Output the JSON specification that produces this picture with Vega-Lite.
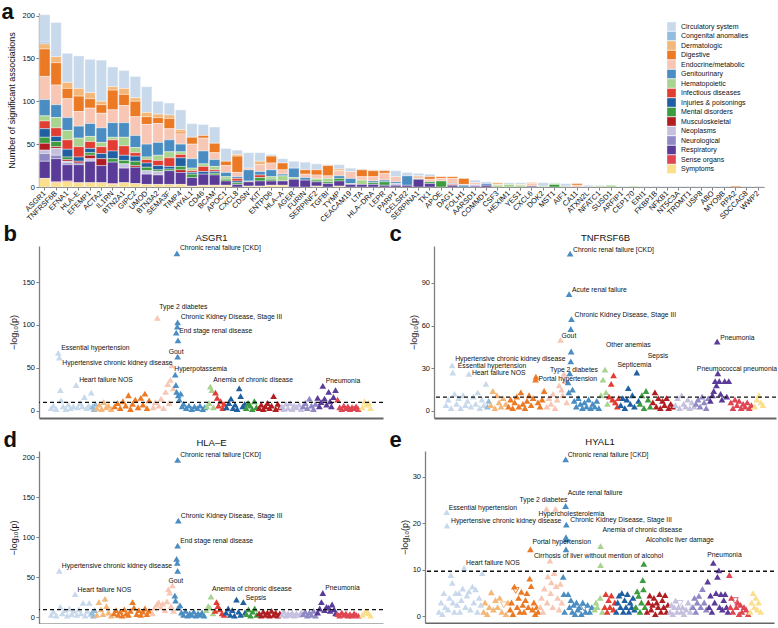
{
  "$schema": "https://vega.github.io/schema/vega-lite/v6.json",
  "padding": {"left": 1, "top": 0, "right": 0, "bottom": 0},
  "spacing": -2,
  "config": {
    "font": "Liberation Sans",
    "view": {"stroke": null},
    "range": {
      "category": ["#c9d9ec", "#92bddf", "#f4b77a", "#ec7a25", "#f7c6b4", "#4a8dc2", "#a9d48f", "#e13d33", "#1f5fa2", "#3c9c3f", "#b01e22", "#c6c0df", "#8f89c4", "#5a3b98", "#df4652", "#fbdf8c"]
    },
    "axis": {
      "grid": false,
      "domainColor": "#7f7f7f",
      "tickColor": "#7f7f7f",
      "labelColor": "#111111",
      "titleColor": "#111111",
      "labelFontSize": 8,
      "titleFontSize": 9,
      "titleFontWeight": "normal",
      "tickSize": 3.5
    },
    "axisXQuantitative": {
      "labels": false,
      "ticks": false,
      "domainWidth": 2,
      "domainColor": "#666666"
    },
    "axisYQuantitative": {"domainWidth": 1.3, "labelPadding": 1.5, "labelFontSize": 7.5, "tickSize": 3, "titlePadding": 3}
  },
  "datasets": {
    "cats": [
      {"k": "ci", "c": "Circulatory system"}, {"k": "co", "c": "Congenital anomalies"},
      {"k": "de", "c": "Dermatologic"}, {"k": "di", "c": "Digestive"},
      {"k": "en", "c": "Endocrine/metabolic"}, {"k": "ge", "c": "Genitourinary"},
      {"k": "he", "c": "Hematopoietic"}, {"k": "in", "c": "Infectious diseases"},
      {"k": "ij", "c": "Injuries & poisonings"}, {"k": "me", "c": "Mental disorders"},
      {"k": "mu", "c": "Musculoskeletal"}, {"k": "np", "c": "Neoplasms"},
      {"k": "ne", "c": "Neurological"}, {"k": "re", "c": "Respiratory"},
      {"k": "se", "c": "Sense organs"}, {"k": "sy", "c": "Symptoms"}
    ],
    "bars": [
      {"g":"ASGR1","k":"ci","n":32},{"g":"ASGR1","k":"co","n":2},{"g":"ASGR1","k":"de","n":6},{"g":"ASGR1","k":"di","n":32},{"g":"ASGR1","k":"en","n":27},{"g":"ASGR1","k":"ge","n":19},{"g":"ASGR1","k":"he","n":6},{"g":"ASGR1","k":"in","n":9},{"g":"ASGR1","k":"ij","n":10},{"g":"ASGR1","k":"me","n":7},{"g":"ASGR1","k":"mu","n":8},{"g":"ASGR1","k":"np","n":4},{"g":"ASGR1","k":"ne","n":9},{"g":"ASGR1","k":"re","n":20},{"g":"ASGR1","k":"sy","n":10},
      {"g":"TNFRSF6B","k":"ci","n":40},{"g":"TNFRSF6B","k":"de","n":7},{"g":"TNFRSF6B","k":"di","n":26},{"g":"TNFRSF6B","k":"en","n":23},{"g":"TNFRSF6B","k":"ge","n":15},{"g":"TNFRSF6B","k":"he","n":12},{"g":"TNFRSF6B","k":"in","n":10},{"g":"TNFRSF6B","k":"ij","n":6},{"g":"TNFRSF6B","k":"me","n":6},{"g":"TNFRSF6B","k":"mu","n":2},{"g":"TNFRSF6B","k":"np","n":8},{"g":"TNFRSF6B","k":"ne","n":4},{"g":"TNFRSF6B","k":"re","n":27},{"g":"TNFRSF6B","k":"se","n":1},{"g":"TNFRSF6B","k":"sy","n":5},
      {"g":"EFNA1","k":"ci","n":34},{"g":"EFNA1","k":"de","n":7},{"g":"EFNA1","k":"di","n":12},{"g":"EFNA1","k":"en","n":22},{"g":"EFNA1","k":"ge","n":15},{"g":"EFNA1","k":"he","n":11},{"g":"EFNA1","k":"in","n":11},{"g":"EFNA1","k":"ij","n":9},{"g":"EFNA1","k":"me","n":3},{"g":"EFNA1","k":"mu","n":2},{"g":"EFNA1","k":"np","n":2},{"g":"EFNA1","k":"ne","n":2},{"g":"EFNA1","k":"re","n":19},{"g":"EFNA1","k":"se","n":1},{"g":"EFNA1","k":"sy","n":6},
      {"g":"HLA–E","k":"ci","n":38},{"g":"HLA–E","k":"de","n":9},{"g":"HLA–E","k":"di","n":18},{"g":"HLA–E","k":"en","n":17},{"g":"HLA–E","k":"ge","n":14},{"g":"HLA–E","k":"he","n":10},{"g":"HLA–E","k":"in","n":12},{"g":"HLA–E","k":"ij","n":5},{"g":"HLA–E","k":"mu","n":2},{"g":"HLA–E","k":"ne","n":2},{"g":"HLA–E","k":"re","n":21},{"g":"HLA–E","k":"sy","n":5},
      {"g":"EFEMP1","k":"ci","n":39},{"g":"EFEMP1","k":"de","n":7},{"g":"EFEMP1","k":"di","n":11},{"g":"EFEMP1","k":"en","n":18},{"g":"EFEMP1","k":"ge","n":15},{"g":"EFEMP1","k":"he","n":6},{"g":"EFEMP1","k":"in","n":8},{"g":"EFEMP1","k":"ij","n":5},{"g":"EFEMP1","k":"me","n":3},{"g":"EFEMP1","k":"mu","n":4},{"g":"EFEMP1","k":"np","n":3},{"g":"EFEMP1","k":"re","n":25},{"g":"EFEMP1","k":"sy","n":5},
      {"g":"ACTA2","k":"ci","n":48},{"g":"ACTA2","k":"de","n":4},{"g":"ACTA2","k":"di","n":10},{"g":"ACTA2","k":"en","n":17},{"g":"ACTA2","k":"ge","n":17},{"g":"ACTA2","k":"he","n":5},{"g":"ACTA2","k":"in","n":8},{"g":"ACTA2","k":"ij","n":6},{"g":"ACTA2","k":"mu","n":8},{"g":"ACTA2","k":"re","n":20},{"g":"ACTA2","k":"sy","n":5},
      {"g":"IL1RN","k":"ci","n":23},{"g":"IL1RN","k":"de","n":4},{"g":"IL1RN","k":"di","n":23},{"g":"IL1RN","k":"en","n":15},{"g":"IL1RN","k":"ge","n":17},{"g":"IL1RN","k":"he","n":3},{"g":"IL1RN","k":"in","n":13},{"g":"IL1RN","k":"ij","n":9},{"g":"IL1RN","k":"me","n":4},{"g":"IL1RN","k":"re","n":25},{"g":"IL1RN","k":"se","n":1},{"g":"IL1RN","k":"sy","n":3},
      {"g":"BTN2A1","k":"ci","n":21},{"g":"BTN2A1","k":"de","n":7},{"g":"BTN2A1","k":"di","n":13},{"g":"BTN2A1","k":"en","n":20},{"g":"BTN2A1","k":"ge","n":17},{"g":"BTN2A1","k":"he","n":10},{"g":"BTN2A1","k":"in","n":11},{"g":"BTN2A1","k":"ij","n":6},{"g":"BTN2A1","k":"me","n":4},{"g":"BTN2A1","k":"np","n":5},{"g":"BTN2A1","k":"re","n":17},{"g":"BTN2A1","k":"sy","n":5},
      {"g":"GIPC2","k":"ci","n":25},{"g":"GIPC2","k":"de","n":4},{"g":"GIPC2","k":"di","n":18},{"g":"GIPC2","k":"en","n":22},{"g":"GIPC2","k":"ge","n":14},{"g":"GIPC2","k":"he","n":6},{"g":"GIPC2","k":"in","n":4},{"g":"GIPC2","k":"ij","n":6},{"g":"GIPC2","k":"me","n":5},{"g":"GIPC2","k":"mu","n":2},{"g":"GIPC2","k":"re","n":19},{"g":"GIPC2","k":"sy","n":4},
      {"g":"UMOD","k":"ci","n":30},{"g":"UMOD","k":"de","n":5},{"g":"UMOD","k":"di","n":9},{"g":"UMOD","k":"en","n":23},{"g":"UMOD","k":"ge","n":15},{"g":"UMOD","k":"he","n":3},{"g":"UMOD","k":"in","n":4},{"g":"UMOD","k":"ij","n":5},{"g":"UMOD","k":"me","n":4},{"g":"UMOD","k":"np","n":4},{"g":"UMOD","k":"re","n":12},{"g":"UMOD","k":"sy","n":3},
      {"g":"BTN3A2","k":"ci","n":15},{"g":"BTN3A2","k":"de","n":4},{"g":"BTN3A2","k":"di","n":7},{"g":"BTN3A2","k":"en","n":22},{"g":"BTN3A2","k":"ge","n":15},{"g":"BTN3A2","k":"he","n":6},{"g":"BTN3A2","k":"in","n":6},{"g":"BTN3A2","k":"ij","n":5},{"g":"BTN3A2","k":"me","n":2},{"g":"BTN3A2","k":"np","n":4},{"g":"BTN3A2","k":"re","n":11},{"g":"BTN3A2","k":"sy","n":3},
      {"g":"SEMA3F","k":"ci","n":14},{"g":"SEMA3F","k":"de","n":4},{"g":"SEMA3F","k":"di","n":12},{"g":"SEMA3F","k":"en","n":13},{"g":"SEMA3F","k":"ge","n":14},{"g":"SEMA3F","k":"he","n":7},{"g":"SEMA3F","k":"in","n":10},{"g":"SEMA3F","k":"ij","n":3},{"g":"SEMA3F","k":"me","n":2},{"g":"SEMA3F","k":"re","n":16},{"g":"SEMA3F","k":"sy","n":3},
      {"g":"TIMP4","k":"ci","n":23},{"g":"TIMP4","k":"de","n":3},{"g":"TIMP4","k":"di","n":2},{"g":"TIMP4","k":"en","n":12},{"g":"TIMP4","k":"ge","n":9},{"g":"TIMP4","k":"he","n":3},{"g":"TIMP4","k":"in","n":4},{"g":"TIMP4","k":"ij","n":10},{"g":"TIMP4","k":"me","n":4},{"g":"TIMP4","k":"mu","n":3},{"g":"TIMP4","k":"re","n":14},{"g":"TIMP4","k":"sy","n":3},
      {"g":"HYAL1","k":"ci","n":16},{"g":"HYAL1","k":"di","n":8},{"g":"HYAL1","k":"en","n":17},{"g":"HYAL1","k":"ge","n":11},{"g":"HYAL1","k":"he","n":3},{"g":"HYAL1","k":"in","n":2},{"g":"HYAL1","k":"ij","n":2},{"g":"HYAL1","k":"me","n":4},{"g":"HYAL1","k":"re","n":10},{"g":"HYAL1","k":"sy","n":1},
      {"g":"CD46","k":"ci","n":13},{"g":"CD46","k":"di","n":3},{"g":"CD46","k":"en","n":15},{"g":"CD46","k":"ge","n":15},{"g":"CD46","k":"he","n":3},{"g":"CD46","k":"in","n":6},{"g":"CD46","k":"ij","n":3},{"g":"CD46","k":"re","n":13},{"g":"CD46","k":"sy","n":2},
      {"g":"BCAM","k":"ci","n":19},{"g":"BCAM","k":"di","n":11},{"g":"BCAM","k":"en","n":8},{"g":"BCAM","k":"ge","n":8},{"g":"BCAM","k":"he","n":4},{"g":"BCAM","k":"in","n":2},{"g":"BCAM","k":"ij","n":2},{"g":"BCAM","k":"me","n":2},{"g":"BCAM","k":"re","n":12},{"g":"BCAM","k":"sy","n":2},
      {"g":"APOC1","k":"ci","n":15},{"g":"APOC1","k":"di","n":5},{"g":"APOC1","k":"en","n":8},{"g":"APOC1","k":"ge","n":5},{"g":"APOC1","k":"he","n":3},{"g":"APOC1","k":"me","n":2},{"g":"APOC1","k":"re","n":5},{"g":"APOC1","k":"sy","n":2},
      {"g":"CXCL8","k":"ci","n":5},{"g":"CXCL8","k":"de","n":2},{"g":"CXCL8","k":"di","n":19},{"g":"CXCL8","k":"en","n":5},{"g":"CXCL8","k":"ge","n":2},{"g":"CXCL8","k":"in","n":3},{"g":"CXCL8","k":"ij","n":2},{"g":"CXCL8","k":"me","n":2},{"g":"CXCL8","k":"re","n":3},
      {"g":"CDSN","k":"ci","n":18},{"g":"CDSN","k":"en","n":2},{"g":"CDSN","k":"ge","n":13},{"g":"CDSN","k":"he","n":1},{"g":"CDSN","k":"re","n":5},{"g":"CDSN","k":"sy","n":1},
      {"g":"KIT","k":"ci","n":10},{"g":"KIT","k":"de","n":4},{"g":"KIT","k":"en","n":8},{"g":"KIT","k":"ge","n":4},{"g":"KIT","k":"in","n":3},{"g":"KIT","k":"me","n":4},{"g":"KIT","k":"re","n":6},{"g":"KIT","k":"sy","n":1},
      {"g":"ENTPD6","k":"ci","n":2},{"g":"ENTPD6","k":"di","n":8},{"g":"ENTPD6","k":"en","n":8},{"g":"ENTPD6","k":"ge","n":8},{"g":"ENTPD6","k":"he","n":3},{"g":"ENTPD6","k":"me","n":2},{"g":"ENTPD6","k":"re","n":5},{"g":"ENTPD6","k":"sy","n":2},
      {"g":"HLA–A","k":"ci","n":5},{"g":"HLA–A","k":"di","n":8},{"g":"HLA–A","k":"en","n":5},{"g":"HLA–A","k":"ge","n":2},{"g":"HLA–A","k":"he","n":6},{"g":"HLA–A","k":"re","n":5},{"g":"HLA–A","k":"sy","n":2},
      {"g":"AGER","k":"ci","n":8},{"g":"AGER","k":"ge","n":11},{"g":"AGER","k":"he","n":2},{"g":"AGER","k":"re","n":9},
      {"g":"FURIN","k":"ci","n":9},{"g":"FURIN","k":"di","n":5},{"g":"FURIN","k":"en","n":4},{"g":"FURIN","k":"ge","n":3},{"g":"FURIN","k":"re","n":8},
      {"g":"SERPINF2","k":"ci","n":7},{"g":"SERPINF2","k":"di","n":6},{"g":"SERPINF2","k":"en","n":4},{"g":"SERPINF2","k":"he","n":2},{"g":"SERPINF2","k":"me","n":2},{"g":"SERPINF2","k":"re","n":5},{"g":"SERPINF2","k":"sy","n":1},
      {"g":"TGFBI","k":"ci","n":1},{"g":"TGFBI","k":"di","n":12},{"g":"TGFBI","k":"en","n":3},{"g":"TGFBI","k":"he","n":4},{"g":"TGFBI","k":"me","n":2},{"g":"TGFBI","k":"re","n":4},
      {"g":"TYMP","k":"ci","n":5},{"g":"TYMP","k":"de","n":2},{"g":"TYMP","k":"en","n":6},{"g":"TYMP","k":"ge","n":3},{"g":"TYMP","k":"me","n":3},{"g":"TYMP","k":"re","n":6},{"g":"TYMP","k":"sy","n":1},
      {"g":"CEACAM19","k":"ci","n":4},{"g":"CEACAM19","k":"en","n":8},{"g":"CEACAM19","k":"ge","n":6},{"g":"CEACAM19","k":"he","n":1},{"g":"CEACAM19","k":"re","n":3},
      {"g":"LTA","k":"ci","n":1},{"g":"LTA","k":"di","n":8},{"g":"LTA","k":"en","n":4},{"g":"LTA","k":"he","n":5},{"g":"LTA","k":"re","n":3},
      {"g":"HLA–DRA","k":"ci","n":1},{"g":"HLA–DRA","k":"di","n":7},{"g":"HLA–DRA","k":"en","n":5},{"g":"HLA–DRA","k":"ge","n":2},{"g":"HLA–DRA","k":"me","n":2},{"g":"HLA–DRA","k":"re","n":3},
      {"g":"LEPR","k":"ci","n":1},{"g":"LEPR","k":"di","n":3},{"g":"LEPR","k":"en","n":8},{"g":"LEPR","k":"ge","n":2},{"g":"LEPR","k":"me","n":4},{"g":"LEPR","k":"re","n":2},
      {"g":"PARP1","k":"ci","n":7},{"g":"PARP1","k":"en","n":6},{"g":"PARP1","k":"ge","n":2},{"g":"PARP1","k":"np","n":2},{"g":"PARP1","k":"re","n":2},
      {"g":"CELSR2","k":"ci","n":4},{"g":"CELSR2","k":"ge","n":11},{"g":"CELSR2","k":"re","n":2},
      {"g":"SERPINA1","k":"ci","n":3},{"g":"SERPINA1","k":"en","n":3},{"g":"SERPINA1","k":"he","n":1},{"g":"SERPINA1","k":"re","n":9},
      {"g":"TK1","k":"ci","n":3},{"g":"TK1","k":"di","n":3},{"g":"TK1","k":"en","n":3},{"g":"TK1","k":"me","n":2},{"g":"TK1","k":"re","n":4},
      {"g":"APOE","k":"di","n":2},{"g":"APOE","k":"en","n":3},{"g":"APOE","k":"me","n":7},
      {"g":"DAG1","k":"di","n":2},{"g":"DAG1","k":"en","n":6},{"g":"DAG1","k":"ge","n":1},{"g":"DAG1","k":"in","n":1},{"g":"DAG1","k":"re","n":2},
      {"g":"FOLH1","k":"di","n":7},{"g":"FOLH1","k":"en","n":1},{"g":"FOLH1","k":"ge","n":2},
      {"g":"AARSD1","k":"ci","n":3},{"g":"AARSD1","k":"en","n":2},{"g":"AARSD1","k":"np","n":2},{"g":"AARSD1","k":"re","n":1},
      {"g":"COMMD1","k":"ci","n":2},{"g":"COMMD1","k":"ge","n":2},{"g":"COMMD1","k":"re","n":2},
      {"g":"CSF3","k":"de","n":2},{"g":"CSF3","k":"en","n":1},{"g":"CSF3","k":"he","n":2},
      {"g":"HEXIM1","k":"ci","n":2},{"g":"HEXIM1","k":"he","n":3},
      {"g":"YES1","k":"ci","n":2},{"g":"YES1","k":"en","n":1},{"g":"YES1","k":"he","n":2},
      {"g":"CXCL6","k":"di","n":1},{"g":"CXCL6","k":"en","n":3},{"g":"CXCL6","k":"re","n":1},
      {"g":"DOK2","k":"ci","n":4},{"g":"DOK2","k":"he","n":1},
      {"g":"MST1","k":"ci","n":1},{"g":"MST1","k":"he","n":1},{"g":"MST1","k":"me","n":3},
      {"g":"AIF1","k":"ci","n":3},{"g":"AIF1","k":"he","n":1},
      {"g":"CA11","k":"di","n":2},{"g":"CA11","k":"en","n":2},
      {"g":"ATXN2L","k":"ci","n":2},
      {"g":"NFATC1","k":"ci","n":1},{"g":"NFATC1","k":"he","n":1},
      {"g":"SUSD1","k":"he","n":2},
      {"g":"ARFIP1","k":"ci","n":1},{"g":"CEP170","k":"he","n":1},{"g":"ERI1","k":"ci","n":1},{"g":"FKBP1B","k":"ci","n":1},{"g":"NFKB1","k":"ci","n":1},{"g":"NT5C3A","k":"ci","n":1},{"g":"TRDMT1","k":"ci","n":1},{"g":"USP8","k":"ci","n":1},{"g":"ABO","k":"ci","n":1},{"g":"MYO9B","k":"ci","n":1},{"g":"RPA2","k":"di","n":1},{"g":"SDCCAG8","k":"ci","n":1},{"g":"WWP2","k":"ci","n":1}
    ],
    "asgr1": [
      {"i":35,"v":3,"k":"ci"},{"i":42,"v":6,"k":"ci"},{"i":50,"v":2,"k":"ci"},{"i":56,"v":67.4,"k":"ci","l":"Essential hypertension"},{"i":59,"v":62,"k":"ci","l":"Hypertensive chronic kidney disease"},{"i":62,"v":24,"k":"ci"},{"i":64,"v":12,"k":"ci"},{"i":70,"v":5,"k":"ci"},{"i":78,"v":2,"k":"ci"},{"i":85,"v":7,"k":"ci"},{"i":92,"v":3,"k":"ci"},{"i":100,"v":5,"k":"ci"},{"i":108,"v":30,"k":"ci","l":"Heart failure NOS"},{"i":112,"v":4,"k":"ci"},{"i":120,"v":9,"k":"ci"},{"i":126,"v":5,"k":"ci"},{"i":132,"v":16,"k":"ci"},{"i":138,"v":3,"k":"ci"},{"i":144,"v":6,"k":"ci"},{"i":148,"v":4,"k":"ci"},{"i":152,"v":21,"k":"ci"},
      {"i":156,"v":5,"k":"co"},{"i":160,"v":2,"k":"co"},{"i":164,"v":8,"k":"co"},
      {"i":168,"v":3,"k":"de"},{"i":175,"v":7,"k":"de"},{"i":182,"v":2,"k":"de"},{"i":188,"v":10,"k":"de"},{"i":195,"v":4,"k":"de"},{"i":202,"v":6,"k":"de"},{"i":210,"v":2,"k":"de"},
      {"i":220,"v":5,"k":"di"},{"i":228,"v":9,"k":"di"},{"i":236,"v":3,"k":"di"},{"i":244,"v":11,"k":"di"},{"i":252,"v":6,"k":"di"},{"i":260,"v":18,"k":"di"},{"i":266,"v":2,"k":"di"},{"i":272,"v":8,"k":"di"},{"i":280,"v":13,"k":"di"},{"i":288,"v":4,"k":"di"},{"i":296,"v":15,"k":"di"},{"i":302,"v":7,"k":"di"},{"i":308,"v":20,"k":"di"},{"i":314,"v":3,"k":"di"},{"i":320,"v":12,"k":"di"},
      {"i":332,"v":4,"k":"en"},{"i":338,"v":10,"k":"en"},{"i":344,"v":108.3,"k":"en","l":"Type 2 diabetes"},{"i":348,"v":6,"k":"en"},{"i":355,"v":14,"k":"en"},{"i":362,"v":3,"k":"en"},{"i":368,"v":22,"k":"en"},{"i":374,"v":31,"k":"en"},{"i":378,"v":9,"k":"en"},{"i":382,"v":36,"k":"en"},{"i":386,"v":53,"k":"en","l":"Gout"},{"i":390,"v":26,"k":"en"},
      {"i":396,"v":42,"k":"ge","l":"Hyperpotassemia"},{"i":398,"v":30,"k":"ge"},{"i":400,"v":22,"k":"ge"},{"i":401,"v":183.4,"k":"ge","l":"Chronic renal failure [CKD]"},{"i":403,"v":103,"k":"ge","l":"Chronic Kidney Disease, Stage III"},{"i":402,"v":98,"k":"ge"},{"i":399,"v":91,"k":"ge","l":"End stage renal disease"},{"i":404,"v":82,"k":"ge"},{"i":403,"v":63,"k":"ge"},{"i":405,"v":18,"k":"ge"},{"i":408,"v":13,"k":"ge"},{"i":412,"v":20,"k":"ge"},{"i":416,"v":5,"k":"ge"},{"i":420,"v":8,"k":"ge"},{"i":428,"v":3,"k":"ge"},{"i":436,"v":6,"k":"ge"},{"i":444,"v":2,"k":"ge"},{"i":452,"v":5,"k":"ge"},{"i":460,"v":3,"k":"ge"},{"i":468,"v":6,"k":"ge"},{"i":476,"v":2,"k":"ge"},{"i":482,"v":4,"k":"ge"},
      {"i":488,"v":5,"k":"he"},{"i":494,"v":9,"k":"he"},{"i":498,"v":28,"k":"he","l":"Anemia of chronic disease"},{"i":502,"v":24,"k":"he"},{"i":507,"v":4,"k":"he"},
      {"i":513,"v":21,"k":"in"},{"i":518,"v":15,"k":"in"},{"i":522,"v":6,"k":"in"},{"i":528,"v":11,"k":"in"},{"i":534,"v":3,"k":"in"},{"i":538,"v":8,"k":"in"},
      {"i":545,"v":4,"k":"ij"},{"i":552,"v":9,"k":"ij"},{"i":558,"v":14,"k":"ij"},{"i":564,"v":3,"k":"ij"},{"i":570,"v":7,"k":"ij"},{"i":576,"v":2,"k":"ij"},{"i":582,"v":26,"k":"ij"},{"i":586,"v":17,"k":"ij"},{"i":592,"v":5,"k":"ij"},{"i":598,"v":8,"k":"ij"},
      {"i":602,"v":3,"k":"me"},{"i":608,"v":9,"k":"me"},{"i":614,"v":6,"k":"me"},{"i":620,"v":2,"k":"me"},{"i":626,"v":11,"k":"me"},{"i":632,"v":4,"k":"me"},
      {"i":640,"v":3,"k":"mu"},{"i":646,"v":7,"k":"mu"},{"i":652,"v":2,"k":"mu"},{"i":658,"v":5,"k":"mu"},{"i":664,"v":9,"k":"mu"},{"i":670,"v":3,"k":"mu"},{"i":676,"v":6,"k":"mu"},{"i":682,"v":17,"k":"mu"},{"i":688,"v":2,"k":"mu"},{"i":694,"v":8,"k":"mu"},{"i":700,"v":4,"k":"mu"},
      {"i":706,"v":5,"k":"np"},{"i":712,"v":2,"k":"np"},{"i":718,"v":8,"k":"np"},{"i":724,"v":3,"k":"np"},{"i":730,"v":9,"k":"np"},{"i":736,"v":2,"k":"np"},{"i":742,"v":6,"k":"np"},{"i":748,"v":4,"k":"np"},{"i":756,"v":7,"k":"np"},{"i":762,"v":2,"k":"np"},
      {"i":768,"v":5,"k":"ne"},{"i":774,"v":9,"k":"ne"},{"i":780,"v":3,"k":"ne"},{"i":786,"v":14,"k":"ne"},{"i":792,"v":6,"k":"ne"},{"i":798,"v":2,"k":"ne"},{"i":804,"v":8,"k":"ne"},
      {"i":810,"v":15,"k":"re"},{"i":815,"v":5,"k":"re"},{"i":820,"v":10,"k":"re"},{"i":825,"v":29,"k":"re","l":"Pneumonia"},{"i":830,"v":14,"k":"re"},{"i":836,"v":7,"k":"re"},{"i":842,"v":22,"k":"re"},{"i":846,"v":11,"k":"re"},{"i":850,"v":5,"k":"re"},{"i":856,"v":16,"k":"re"},{"i":862,"v":24,"k":"re"},
      {"i":868,"v":13,"k":"se"},{"i":874,"v":4,"k":"se"},{"i":880,"v":2,"k":"se"},{"i":886,"v":6,"k":"se"},{"i":892,"v":3,"k":"se"},{"i":898,"v":5,"k":"se"},{"i":904,"v":2,"k":"se"},{"i":910,"v":4,"k":"se"},{"i":916,"v":3,"k":"se"},{"i":922,"v":5,"k":"se"},{"i":928,"v":2,"k":"se"},
      {"i":940,"v":4,"k":"sy"},{"i":946,"v":11,"k":"sy"},{"i":952,"v":7,"k":"sy"},{"i":958,"v":9,"k":"sy"},{"i":964,"v":3,"k":"sy"}
    ],
    "tnf": [
      {"i":35,"v":4,"k":"ci"},{"i":42,"v":8,"k":"ci"},{"i":50,"v":2,"k":"ci"},{"i":53,"v":32,"k":"ci","l":"Hypertensive chronic kidney disease"},{"i":55,"v":27,"k":"ci","l":"Essential hypertension"},{"i":60,"v":12,"k":"ci"},{"i":66,"v":5,"k":"ci"},{"i":72,"v":9,"k":"ci"},{"i":78,"v":2,"k":"ci"},{"i":85,"v":11,"k":"ci"},{"i":92,"v":4,"k":"ci"},{"i":98,"v":7,"k":"ci"},{"i":102,"v":26,"k":"ci","l":"Heart failure NOS"},{"i":108,"v":3,"k":"ci"},{"i":115,"v":10,"k":"ci"},{"i":122,"v":5,"k":"ci"},{"i":128,"v":13,"k":"ci"},{"i":134,"v":2,"k":"ci"},{"i":140,"v":8,"k":"ci"},{"i":146,"v":4,"k":"ci"},{"i":152,"v":19,"k":"ci"},
      {"i":156,"v":3,"k":"co"},{"i":160,"v":7,"k":"co"},
      {"i":166,"v":4,"k":"de"},{"i":172,"v":14,"k":"de"},{"i":178,"v":2,"k":"de"},{"i":184,"v":11,"k":"de"},{"i":190,"v":6,"k":"de"},{"i":196,"v":3,"k":"de"},{"i":202,"v":9,"k":"de"},{"i":210,"v":5,"k":"de"},
      {"i":218,"v":3,"k":"di"},{"i":224,"v":8,"k":"di"},{"i":230,"v":2,"k":"di"},{"i":236,"v":6,"k":"di"},{"i":242,"v":10,"k":"di"},{"i":248,"v":3,"k":"di"},{"i":254,"v":13,"k":"di"},{"i":260,"v":5,"k":"di"},{"i":266,"v":2,"k":"di"},{"i":272,"v":7,"k":"di"},{"i":278,"v":11,"k":"di"},{"i":284,"v":4,"k":"di"},{"i":290,"v":9,"k":"di"},{"i":297,"v":22,"k":"di","l":"Portal hypertension"},{"i":298,"v":24,"k":"di"},{"i":304,"v":6,"k":"di"},{"i":310,"v":3,"k":"di"},{"i":316,"v":8,"k":"di"},{"i":322,"v":14,"k":"di"},
      {"i":330,"v":3,"k":"en"},{"i":336,"v":9,"k":"en"},{"i":342,"v":5,"k":"en"},{"i":348,"v":12,"k":"en"},{"i":354,"v":2,"k":"en"},{"i":360,"v":8,"k":"en"},{"i":366,"v":18,"k":"en"},{"i":370,"v":50,"k":"en","l":"Gout"},{"i":373,"v":15,"k":"en"},{"i":376,"v":11,"k":"en"},{"i":380,"v":26,"k":"en","l":"Type 2 diabetes"},{"i":384,"v":21,"k":"en"},{"i":388,"v":6,"k":"en"},
      {"i":392,"v":20,"k":"ge"},{"i":394,"v":13,"k":"ge"},{"i":395,"v":82.2,"k":"ge","l":"Acute renal failure"},{"i":398,"v":110.6,"k":"ge","l":"Chronic renal failure [CKD]"},{"i":402,"v":64.6,"k":"ge","l":"Chronic Kidney Disease, Stage III"},{"i":400,"v":57.6,"k":"ge"},{"i":401,"v":41.8,"k":"ge"},{"i":400,"v":34.8,"k":"ge"},{"i":397,"v":26.5,"k":"ge"},{"i":405,"v":15,"k":"ge"},{"i":410,"v":7,"k":"ge"},{"i":416,"v":3,"k":"ge"},{"i":422,"v":9,"k":"ge"},{"i":428,"v":5,"k":"ge"},{"i":434,"v":2,"k":"ge"},{"i":440,"v":6,"k":"ge"},{"i":446,"v":3,"k":"ge"},{"i":452,"v":8,"k":"ge"},{"i":458,"v":2,"k":"ge"},{"i":464,"v":5,"k":"ge"},{"i":470,"v":3,"k":"ge"},{"i":476,"v":7,"k":"ge"},{"i":482,"v":2,"k":"ge"},
      {"i":488,"v":11,"k":"he"},{"i":494,"v":22,"k":"he"},{"i":500,"v":29,"k":"he","l":"Other anemias"},{"i":503,"v":13,"k":"he"},{"i":507,"v":5,"k":"he"},
      {"i":512,"v":10,"k":"in"},{"i":518,"v":19,"k":"in"},{"i":522,"v":8,"k":"in"},{"i":525,"v":25,"k":"in","l":"Septicemia"},{"i":530,"v":6,"k":"in"},{"i":536,"v":3,"k":"in"},{"i":540,"v":9,"k":"in"},
      {"i":546,"v":4,"k":"ij"},{"i":552,"v":9,"k":"ij"},{"i":558,"v":2,"k":"ij"},{"i":564,"v":8,"k":"ij"},{"i":568,"v":16,"k":"ij"},{"i":574,"v":5,"k":"ij"},{"i":580,"v":11,"k":"ij"},{"i":586,"v":3,"k":"ij"},{"i":593,"v":27,"k":"ij","l":"Sepsis"},{"i":598,"v":7,"k":"ij"},
      {"i":602,"v":5,"k":"me"},{"i":608,"v":11,"k":"me"},{"i":614,"v":2,"k":"me"},{"i":620,"v":14,"k":"me"},{"i":626,"v":8,"k":"me"},{"i":632,"v":3,"k":"me"},
      {"i":640,"v":6,"k":"mu"},{"i":646,"v":13,"k":"mu"},{"i":650,"v":3,"k":"mu"},{"i":656,"v":9,"k":"mu"},{"i":662,"v":2,"k":"mu"},{"i":668,"v":7,"k":"mu"},{"i":674,"v":4,"k":"mu"},{"i":680,"v":9,"k":"mu"},{"i":686,"v":2,"k":"mu"},{"i":692,"v":5,"k":"mu"},{"i":698,"v":3,"k":"mu"},
      {"i":706,"v":4,"k":"np"},{"i":712,"v":9,"k":"np"},{"i":718,"v":2,"k":"np"},{"i":724,"v":11,"k":"np"},{"i":730,"v":5,"k":"np"},{"i":736,"v":3,"k":"np"},{"i":742,"v":8,"k":"np"},{"i":748,"v":2,"k":"np"},{"i":754,"v":6,"k":"np"},{"i":760,"v":3,"k":"np"},
      {"i":766,"v":5,"k":"ne"},{"i":772,"v":8,"k":"ne"},{"i":778,"v":3,"k":"ne"},{"i":784,"v":10,"k":"ne"},{"i":790,"v":6,"k":"ne"},{"i":796,"v":2,"k":"ne"},{"i":802,"v":9,"k":"ne"},
      {"i":808,"v":7,"k":"re"},{"i":814,"v":11,"k":"re"},{"i":818,"v":14,"k":"re"},{"i":822,"v":21,"k":"re"},{"i":826,"v":18,"k":"re"},{"i":828,"v":48.7,"k":"re","l":"Pneumonia"},{"i":830,"v":26.5,"k":"re","l":"Pneumococcal pneumonia"},{"i":834,"v":21,"k":"re"},{"i":838,"v":12,"k":"re"},{"i":842,"v":8,"k":"re"},{"i":850,"v":21,"k":"re"},{"i":856,"v":10,"k":"re"},{"i":862,"v":21,"k":"re"},
      {"i":868,"v":6,"k":"se"},{"i":874,"v":2,"k":"se"},{"i":880,"v":8,"k":"se"},{"i":886,"v":4,"k":"se"},{"i":892,"v":7,"k":"se"},{"i":898,"v":2,"k":"se"},{"i":904,"v":5,"k":"se"},{"i":910,"v":3,"k":"se"},{"i":916,"v":6,"k":"se"},{"i":922,"v":2,"k":"se"},{"i":928,"v":4,"k":"se"},
      {"i":938,"v":3,"k":"sy"},{"i":944,"v":8,"k":"sy"},{"i":950,"v":11,"k":"sy"},{"i":956,"v":6,"k":"sy"},{"i":962,"v":4,"k":"sy"}
    ],
    "hlae": [
      {"i":35,"v":3,"k":"ci"},{"i":42,"v":7,"k":"ci"},{"i":50,"v":2,"k":"ci"},{"i":59,"v":58,"k":"ci","l":"Hypertensive chronic kidney disease"},{"i":62,"v":13,"k":"ci"},{"i":68,"v":5,"k":"ci"},{"i":75,"v":9,"k":"ci"},{"i":82,"v":2,"k":"ci"},{"i":88,"v":11,"k":"ci"},{"i":95,"v":4,"k":"ci"},{"i":101,"v":8,"k":"ci"},{"i":105,"v":29,"k":"ci","l":"Heart failure NOS"},{"i":110,"v":3,"k":"ci"},{"i":116,"v":10,"k":"ci"},{"i":122,"v":5,"k":"ci"},{"i":128,"v":18,"k":"ci"},{"i":134,"v":2,"k":"ci"},{"i":140,"v":8,"k":"ci"},{"i":146,"v":18,"k":"ci"},{"i":150,"v":4,"k":"ci"},
      {"i":154,"v":6,"k":"co"},{"i":158,"v":2,"k":"co"},{"i":162,"v":9,"k":"co"},
      {"i":168,"v":3,"k":"de"},{"i":174,"v":19,"k":"de"},{"i":180,"v":10,"k":"de"},{"i":186,"v":4,"k":"de"},{"i":192,"v":23,"k":"de"},{"i":196,"v":14,"k":"de"},{"i":202,"v":6,"k":"de"},{"i":210,"v":2,"k":"de"},
      {"i":218,"v":5,"k":"di"},{"i":224,"v":9,"k":"di"},{"i":230,"v":3,"k":"di"},{"i":236,"v":7,"k":"di"},{"i":242,"v":2,"k":"di"},{"i":248,"v":10,"k":"di"},{"i":254,"v":5,"k":"di"},{"i":260,"v":3,"k":"di"},{"i":266,"v":8,"k":"di"},{"i":272,"v":19,"k":"di"},{"i":276,"v":12,"k":"di"},{"i":284,"v":4,"k":"di"},{"i":290,"v":9,"k":"di"},{"i":296,"v":3,"k":"di"},{"i":302,"v":7,"k":"di"},{"i":308,"v":11,"k":"di"},{"i":314,"v":4,"k":"di"},{"i":320,"v":8,"k":"di"},
      {"i":330,"v":5,"k":"en"},{"i":336,"v":12,"k":"en"},{"i":342,"v":16,"k":"en"},{"i":348,"v":19,"k":"en"},{"i":354,"v":13,"k":"en"},{"i":360,"v":17,"k":"en"},{"i":366,"v":9,"k":"en"},{"i":372,"v":20,"k":"en"},{"i":376,"v":35,"k":"en"},{"i":380,"v":31,"k":"en"},{"i":384,"v":14,"k":"en"},{"i":388,"v":40,"k":"en","l":"Gout"},{"i":391,"v":8,"k":"en"},
      {"i":395,"v":27,"k":"ge"},{"i":397,"v":21,"k":"ge"},{"i":400,"v":73,"k":"ge"},{"i":402,"v":68,"k":"ge"},{"i":403,"v":197,"k":"ge","l":"Chronic renal failure [CKD]"},{"i":405,"v":120.8,"k":"ge","l":"Chronic Kidney Disease, Stage III"},{"i":403,"v":89.6,"k":"ge","l":"End stage renal disease"},{"i":403,"v":58,"k":"ge"},{"i":405,"v":12,"k":"ge"},{"i":410,"v":15,"k":"ge"},{"i":414,"v":6,"k":"ge"},{"i":420,"v":3,"k":"ge"},{"i":426,"v":8,"k":"ge"},{"i":432,"v":2,"k":"ge"},{"i":438,"v":5,"k":"ge"},{"i":444,"v":3,"k":"ge"},{"i":450,"v":7,"k":"ge"},{"i":456,"v":2,"k":"ge"},{"i":462,"v":5,"k":"ge"},{"i":468,"v":3,"k":"ge"},{"i":474,"v":6,"k":"ge"},{"i":480,"v":2,"k":"ge"},
      {"i":486,"v":9,"k":"he"},{"i":492,"v":14,"k":"he"},{"i":497,"v":12,"k":"he"},{"i":500,"v":25.8,"k":"he","l":"Anemia of chronic disease"},{"i":506,"v":5,"k":"he"},
      {"i":512,"v":8,"k":"in"},{"i":516,"v":19,"k":"in"},{"i":520,"v":14,"k":"in"},{"i":526,"v":10,"k":"in"},{"i":532,"v":5,"k":"in"},{"i":538,"v":3,"k":"in"},
      {"i":544,"v":6,"k":"ij"},{"i":550,"v":11,"k":"ij"},{"i":556,"v":3,"k":"ij"},{"i":562,"v":9,"k":"ij"},{"i":568,"v":2,"k":"ij"},{"i":574,"v":22,"k":"ij"},{"i":580,"v":7,"k":"ij"},{"i":586,"v":3,"k":"ij"},{"i":594,"v":19,"k":"ij","l":"Sepsis"},{"i":599,"v":6,"k":"ij"},
      {"i":603,"v":4,"k":"me"},{"i":609,"v":10,"k":"me"},{"i":615,"v":2,"k":"me"},{"i":621,"v":7,"k":"me"},{"i":627,"v":11,"k":"me"},{"i":633,"v":3,"k":"me"},
      {"i":640,"v":5,"k":"mu"},{"i":646,"v":2,"k":"mu"},{"i":652,"v":7,"k":"mu"},{"i":658,"v":3,"k":"mu"},{"i":664,"v":6,"k":"mu"},{"i":670,"v":2,"k":"mu"},{"i":676,"v":8,"k":"mu"},{"i":682,"v":3,"k":"mu"},{"i":688,"v":6,"k":"mu"},{"i":694,"v":2,"k":"mu"},{"i":700,"v":5,"k":"mu"},
      {"i":706,"v":3,"k":"np"},{"i":712,"v":7,"k":"np"},{"i":718,"v":2,"k":"np"},{"i":724,"v":5,"k":"np"},{"i":730,"v":3,"k":"np"},{"i":736,"v":6,"k":"np"},{"i":742,"v":2,"k":"np"},{"i":748,"v":5,"k":"np"},{"i":756,"v":3,"k":"np"},{"i":762,"v":6,"k":"np"},
      {"i":768,"v":4,"k":"ne"},{"i":774,"v":7,"k":"ne"},{"i":780,"v":2,"k":"ne"},{"i":786,"v":6,"k":"ne"},{"i":792,"v":3,"k":"ne"},{"i":798,"v":8,"k":"ne"},{"i":804,"v":2,"k":"ne"},
      {"i":810,"v":6,"k":"re"},{"i":816,"v":11,"k":"re"},{"i":821,"v":19,"k":"re"},{"i":825,"v":30.4,"k":"re","l":"Pneumonia"},{"i":830,"v":9,"k":"re"},{"i":836,"v":13,"k":"re"},{"i":842,"v":12,"k":"re"},{"i":846,"v":8,"k":"re"},{"i":852,"v":16,"k":"re"},{"i":858,"v":10,"k":"re"},{"i":862,"v":5,"k":"re"},
      {"i":868,"v":4,"k":"se"},{"i":874,"v":2,"k":"se"},{"i":880,"v":6,"k":"se"},{"i":886,"v":3,"k":"se"},{"i":892,"v":5,"k":"se"},{"i":898,"v":2,"k":"se"},{"i":904,"v":4,"k":"se"},{"i":910,"v":2,"k":"se"},{"i":916,"v":5,"k":"se"},{"i":922,"v":3,"k":"se"},{"i":928,"v":2,"k":"se"},
      {"i":940,"v":3,"k":"sy"},{"i":946,"v":6,"k":"sy"},{"i":952,"v":8,"k":"sy"},{"i":958,"v":5,"k":"sy"},{"i":964,"v":2,"k":"sy"}
    ],
    "hyal1": [
      {"i":40,"v":1,"k":"ci"},{"i":46,"v":3,"k":"ci"},{"i":50,"v":0.5,"k":"ci"},{"i":54,"v":5,"k":"ci"},{"i":58,"v":2,"k":"ci"},{"i":62,"v":22.4,"k":"ci","l":"Essential hypertension"},{"i":63,"v":19.5,"k":"ci","l":"Hypertensive chronic kidney disease"},{"i":66,"v":1.5,"k":"ci"},{"i":70,"v":4,"k":"ci"},{"i":74,"v":8.9,"k":"ci"},{"i":78,"v":7.2,"k":"ci"},{"i":80,"v":3,"k":"ci"},{"i":84,"v":1,"k":"ci"},{"i":88,"v":5,"k":"ci"},{"i":92,"v":2.5,"k":"ci"},{"i":97,"v":5,"k":"ci"},{"i":100,"v":1,"k":"ci"},{"i":104,"v":3.5,"k":"ci"},{"i":108,"v":6,"k":"ci"},{"i":112,"v":10.4,"k":"ci","l":"Heart failure NOS"},{"i":116,"v":2,"k":"ci"},{"i":120,"v":4.5,"k":"ci"},{"i":126,"v":5.4,"k":"ci"},{"i":130,"v":1.5,"k":"ci"},{"i":136,"v":6.4,"k":"ci"},{"i":140,"v":3,"k":"ci"},{"i":145,"v":5.8,"k":"ci"},{"i":150,"v":1,"k":"ci"},{"i":155,"v":4,"k":"ci"},{"i":160,"v":2.5,"k":"ci"},{"i":164,"v":9.3,"k":"ci"},
      {"i":168,"v":1,"k":"de"},{"i":172,"v":3,"k":"de"},{"i":178,"v":0.5,"k":"de"},{"i":184,"v":2,"k":"de"},{"i":190,"v":5.2,"k":"de"},{"i":196,"v":1.5,"k":"de"},{"i":202,"v":3.5,"k":"de"},{"i":208,"v":2,"k":"de"},{"i":214,"v":4,"k":"de"},{"i":220,"v":1,"k":"de"},{"i":226,"v":2.5,"k":"de","d":"n"},{"i":232,"v":0.5,"k":"de"},{"i":238,"v":3,"k":"de"},
      {"i":244,"v":1.5,"k":"di"},{"i":248,"v":3,"k":"di"},{"i":252,"v":0.5,"k":"di"},{"i":256,"v":6.4,"k":"di"},{"i":260,"v":5.6,"k":"di","d":"n"},{"i":264,"v":2,"k":"di"},{"i":268,"v":4,"k":"di"},{"i":272,"v":1,"k":"di"},{"i":276,"v":5.3,"k":"di"},{"i":280,"v":2.5,"k":"di"},{"i":284,"v":1,"k":"di"},{"i":288,"v":3.5,"k":"di"},{"i":292,"v":5,"k":"di"},{"i":296,"v":2,"k":"di"},{"i":300,"v":8.1,"k":"di"},{"i":302,"v":14.4,"k":"di","l":"Portal hypertension"},{"i":304,"v":6.5,"k":"di"},{"i":308,"v":1.5,"k":"di"},{"i":312,"v":3,"k":"di"},{"i":316,"v":0.5,"k":"di"},{"i":320,"v":2,"k":"di"},{"i":324,"v":1,"k":"di"},
      {"i":330,"v":2,"k":"en"},{"i":334,"v":4,"k":"en"},{"i":338,"v":1,"k":"en"},{"i":342,"v":6,"k":"en"},{"i":348,"v":23.1,"k":"en","l":"Type 2 diabetes"},{"i":350,"v":3,"k":"en"},{"i":352,"v":8.6,"k":"en"},{"i":358,"v":12,"k":"en","l":"Cirrhosis of liver without mention of alcohol"},{"i":360,"v":5,"k":"en"},{"i":362,"v":7.3,"k":"en"},{"i":366,"v":2,"k":"en"},{"i":370,"v":9.3,"k":"en"},{"i":374,"v":23.1,"k":"en","l":"Hypercholesterolemia"},{"i":376,"v":6.5,"k":"en"},{"i":380,"v":4,"k":"en"},{"i":384,"v":1.5,"k":"en"},{"i":388,"v":7,"k":"en"},{"i":392,"v":3,"k":"en"},
      {"i":396,"v":8.5,"k":"ge"},{"i":398,"v":4.8,"k":"ge"},{"i":400,"v":1,"k":"ge"},{"i":403,"v":33.7,"k":"ge","l":"Chronic renal failure [CKD]"},{"i":403,"v":23.7,"k":"ge","l":"Acute renal failure"},{"i":405,"v":19.7,"k":"ge","l":"Chronic Kidney Disease, Stage III"},{"i":404,"v":17,"k":"ge"},{"i":406,"v":16.5,"k":"ge"},{"i":404,"v":14.4,"k":"ge"},{"i":410,"v":4.8,"k":"ge"},{"i":414,"v":2,"k":"ge"},{"i":418,"v":3.5,"k":"ge"},{"i":422,"v":1,"k":"ge"},{"i":426,"v":2.5,"k":"ge"},{"i":430,"v":0.5,"k":"ge"},{"i":434,"v":3,"k":"ge"},{"i":438,"v":1.5,"k":"ge"},{"i":442,"v":2,"k":"ge"},{"i":448,"v":0.5,"k":"ge"},{"i":452,"v":3,"k":"ge"},{"i":456,"v":1.8,"k":"ge","d":"n"},{"i":460,"v":1,"k":"ge"},{"i":466,"v":2.5,"k":"ge"},{"i":472,"v":1,"k":"ge"},{"i":478,"v":2,"k":"ge"},
      {"i":486,"v":1.5,"k":"he"},{"i":490,"v":3,"k":"he"},{"i":494,"v":2,"k":"he"},{"i":503,"v":15.1,"k":"he","l":"Anemia of chronic disease"},{"i":503,"v":11,"k":"he"},{"i":502,"v":4,"k":"he"},{"i":508,"v":1,"k":"he"},
      {"i":515,"v":2,"k":"in"},{"i":518,"v":4.8,"k":"in"},{"i":522,"v":1,"k":"in"},{"i":526,"v":3.5,"k":"in"},{"i":530,"v":2,"k":"in"},{"i":534,"v":4.5,"k":"in"},{"i":540,"v":1.5,"k":"in"},{"i":544,"v":3,"k":"in"},
      {"i":548,"v":1,"k":"ij"},{"i":552,"v":3,"k":"ij"},{"i":556,"v":4.5,"k":"ij"},{"i":560,"v":2,"k":"ij"},{"i":564,"v":5,"k":"ij"},{"i":568,"v":1,"k":"ij"},{"i":572,"v":3.5,"k":"ij"},{"i":576,"v":2,"k":"ij"},{"i":580,"v":4.8,"k":"ij"},{"i":584,"v":1,"k":"ij"},{"i":588,"v":3,"k":"ij"},{"i":592,"v":2,"k":"ij"},{"i":596,"v":4,"k":"ij"},{"i":600,"v":1.5,"k":"ij"},
      {"i":604,"v":2,"k":"me"},{"i":608,"v":5.4,"k":"me"},{"i":612,"v":4.4,"k":"me"},{"i":616,"v":1,"k":"me"},{"i":620,"v":3,"k":"me"},{"i":624,"v":7.8,"k":"me"},{"i":626,"v":5.8,"k":"me"},{"i":627,"v":11.3,"k":"me","l":"Alcoholic liver damage"},{"i":630,"v":2,"k":"me"},
      {"i":636,"v":1,"k":"mu"},{"i":640,"v":3,"k":"mu"},{"i":644,"v":4.5,"k":"mu"},{"i":648,"v":1.5,"k":"mu"},{"i":652,"v":2.5,"k":"mu"},{"i":656,"v":4,"k":"mu"},{"i":660,"v":0.5,"k":"mu"},{"i":664,"v":3,"k":"mu"},{"i":668,"v":2,"k":"mu"},{"i":672,"v":4.8,"k":"mu"},{"i":676,"v":1,"k":"mu"},{"i":680,"v":3.5,"k":"mu"},{"i":684,"v":2,"k":"mu"},{"i":688,"v":4.6,"k":"mu"},{"i":692,"v":1,"k":"mu"},{"i":696,"v":2.5,"k":"mu"},
      {"i":702,"v":1,"k":"np"},{"i":706,"v":2.5,"k":"np"},{"i":710,"v":0.5,"k":"np"},{"i":714,"v":2,"k":"np"},{"i":718,"v":3.4,"k":"np"},{"i":722,"v":1,"k":"np"},{"i":726,"v":2,"k":"np"},{"i":730,"v":2.8,"k":"np","d":"n"},{"i":734,"v":1,"k":"np"},{"i":738,"v":2,"k":"np"},{"i":742,"v":0.5,"k":"np"},{"i":748,"v":1.5,"k":"np"},{"i":754,"v":3,"k":"np"},{"i":760,"v":1,"k":"np"},{"i":764,"v":2,"k":"np"},
      {"i":768,"v":2,"k":"ne"},{"i":772,"v":4,"k":"ne"},{"i":776,"v":1,"k":"ne"},{"i":780,"v":3,"k":"ne"},{"i":785,"v":4.4,"k":"ne"},{"i":790,"v":2,"k":"ne"},{"i":795,"v":5.9,"k":"ne"},{"i":800,"v":3,"k":"ne"},{"i":806,"v":1.5,"k":"ne"},
      {"i":810,"v":7.5,"k":"re"},{"i":814,"v":2,"k":"re"},{"i":818,"v":4.5,"k":"re"},{"i":822,"v":1,"k":"re"},{"i":826,"v":11.5,"k":"re","l":"Pneumonia"},{"i":830,"v":3,"k":"re"},{"i":834,"v":5,"k":"re"},{"i":838,"v":8.5,"k":"re"},{"i":842,"v":9.9,"k":"re"},{"i":844,"v":2,"k":"re"},{"i":848,"v":4.8,"k":"re"},{"i":852,"v":1.5,"k":"re"},{"i":856,"v":3.5,"k":"re"},{"i":860,"v":4.8,"k":"re"},{"i":864,"v":2,"k":"re"},{"i":868,"v":1,"k":"re"},
      {"i":872,"v":8.9,"k":"se"},{"i":875,"v":2,"k":"se"},{"i":878,"v":4,"k":"se"},{"i":882,"v":1,"k":"se"},{"i":888,"v":3.4,"k":"se","d":"n"},{"i":892,"v":2,"k":"se"},{"i":896,"v":3,"k":"se"},{"i":900,"v":0.5,"k":"se"},{"i":904,"v":2.5,"k":"se"},{"i":908,"v":1,"k":"se"},{"i":914,"v":2,"k":"se"},{"i":920,"v":1.5,"k":"se"},{"i":926,"v":0.5,"k":"se"},
      {"i":932,"v":1,"k":"sy"},{"i":936,"v":3,"k":"sy"},{"i":940,"v":5,"k":"sy"},{"i":944,"v":2,"k":"sy"},{"i":948,"v":4,"k":"sy"},{"i":952,"v":1.5,"k":"sy"},{"i":956,"v":3,"k":"sy"},{"i":962,"v":1,"k":"sy"}
    ]
  },
  "resolve": {"scale": {"color": "independent"}},
  "vconcat": [
    {
      "width": 725,
      "height": 174,
      "data": {"name": "bars"},
      "transform": [{"lookup": "k", "from": {"data": {"name": "cats"}, "key": "k", "fields": ["c"]}}],
      "mark": {"type": "bar", "stroke": "white", "strokeWidth": 0.4},
      "encoding": {
        "x": {
          "field": "g", "type": "nominal", "sort": null,
          "scale": {"paddingInner": 0.08, "paddingOuter": 0.05},
          "axis": {"title": "a", "titleX": -38, "titleY": -169, "titleAlign": "left", "titleBaseline": "alphabetic", "titleFontSize": 22, "titleFontWeight": "bold", "labelAngle": -45, "labelAlign": "right", "labelBaseline": "middle", "labelFontSize": 7.5, "labelPadding": 2, "tickSize": 3, "labelOverlap": false}
        },
        "y": {
          "field": "n", "type": "quantitative",
          "scale": {"domain": [0, 203], "nice": false},
          "axis": {"title": "Number of significant associations", "values": [0, 50, 100, 150, 200], "titlePadding": 5, "titleFontSize": 9}
        },
        "color": {
          "field": "c", "type": "nominal",
          "scale": {"domain": ["Circulatory system", "Congenital anomalies", "Dermatologic", "Digestive", "Endocrine/metabolic", "Genitourinary", "Hematopoietic", "Infectious diseases", "Injuries & poisonings", "Mental disorders", "Musculoskeletal", "Neoplasms", "Neurological", "Respiratory", "Sense organs", "Symptoms"]},
          "legend": {"title": null, "orient": "none", "legendX": 628, "legendY": 9, "symbolType": "square", "symbolSize": 75, "symbolStrokeWidth": 0, "symbolOpacity": 1, "labelFontSize": 7, "labelColor": "#111111", "rowPadding": 0.5, "labelOffset": 5, "labelLimit": 200}
        },
        "order": {"field": "c", "sort": "descending"}
      }
    },
    {
      "spacing": 10,
      "vconcat": [
        {
          "spacing": 5,
          "hconcat": [
            {
              "width": 344, "height": 172,
              "data": {"name": "asgr1"},
              "resolve": {"axis": {"x": "independent"}},
              "layer": [
                {
                  "mark": {"type": "point", "shape": "triangle-up", "filled": true, "size": 45, "opacity": 1},
                  "encoding": {
                    "x": {"field": "i", "type": "quantitative", "scale": {"domain": [0, 1000], "nice": false, "zero": false}, "axis": {"orient": "bottom", "title": "b", "titleX": -36, "titleY": -178, "titleAlign": "left", "titleBaseline": "alphabetic", "titleFontSize": 22, "titleFontWeight": "bold"}},
                    "y": {"field": "v", "type": "quantitative", "scale": {"domain": [-8.5, 192], "nice": false, "zero": false}, "axis": {"title": "−log₁₀(p)", "values": [0, 50, 100, 150]}},
                    "color": {"field": "k", "type": "nominal", "scale": {"domain": ["ci","co","de","di","en","ge","he","in","ij","me","mu","np","ne","re","se","sy"]}, "legend": null}
                  }
                },
                {
                  "data": {"values": [{}]},
                  "mark": {"type": "rule", "strokeDash": [4, 3], "strokeWidth": 1.3, "color": "#111111"},
                  "encoding": {"y": {"datum": 9.7}}
                },
                {
                  "transform": [{"filter": "isValid(datum.l)"}],
                  "mark": {"type": "text", "align": "left", "baseline": "middle", "fontSize": 6.8, "color": "#111111",
                    "dx": {"expr": "({'Type 2 diabetes': 2, 'Gout': -3, 'Hyperpotassemia': -1})[datum.l] || 3"},
                    "dy": {"expr": "({'Type 2 diabetes': -11, 'Gout': -13, 'Hypertensive chronic kidney disease': 5, 'Hyperpotassemia': -6, 'End stage renal disease': -2, 'Anemia of chronic disease': -7})[datum.l] || -5"}},
                  "encoding": {
                    "x": {"field": "i", "type": "quantitative", "scale": {"domain": [0, 1000], "nice": false, "zero": false}, "axis": {"orient": "top", "title": "ASGR1", "domain": false, "titlePadding": 6, "titleFontSize": 9.5, "titleFontWeight": "normal", "titleBaseline": "alphabetic"}},
                    "y": {"field": "v", "type": "quantitative", "scale": {"domain": [-8.5, 192], "nice": false, "zero": false}, "axis": {"title": "−log₁₀(p)", "values": [0, 50, 100, 150]}},
                    "text": {"field": "l"}
                  }
                }
              ]
            },
            {
              "width": 342, "height": 172,
              "data": {"name": "tnf"},
              "resolve": {"axis": {"x": "independent"}},
              "layer": [
                {
                  "mark": {"type": "point", "shape": "triangle-up", "filled": true, "size": 45, "opacity": 1},
                  "encoding": {
                    "x": {"field": "i", "type": "quantitative", "scale": {"domain": [0, 1000], "nice": false, "zero": false}, "axis": {"orient": "bottom", "title": "c", "titleX": -45, "titleY": -178, "titleAlign": "left", "titleBaseline": "alphabetic", "titleFontSize": 22, "titleFontWeight": "bold"}},
                    "y": {"field": "v", "type": "quantitative", "scale": {"domain": [-5, 116], "nice": false, "zero": false}, "axis": {"title": "−log₁₀(p)", "values": [0, 30, 60, 90]}},
                    "color": {"field": "k", "type": "nominal", "scale": {"domain": ["ci","co","de","di","en","ge","he","in","ij","me","mu","np","ne","re","se","sy"]}, "legend": null}
                  }
                },
                {
                  "data": {"values": [{}]},
                  "mark": {"type": "rule", "strokeDash": [4, 3], "strokeWidth": 1.3, "color": "#111111"},
                  "encoding": {"y": {"datum": 9.7}}
                },
                {
                  "transform": [{"filter": "isValid(datum.l)"}],
                  "mark": {"type": "text", "align": "left", "baseline": "middle", "fontSize": 6.8, "color": "#111111",
                    "dx": {"expr": "({'Type 2 diabetes': -14, 'Other anemias': 1, 'Septicemia': 4, 'Sepsis': 11, 'Pneumococcal pneumonia': -21, 'Essential hypertension': 5, 'Gout': 1})[datum.l] || 3"},
                    "dy": {"expr": "({'Hypertensive chronic kidney disease': -6, 'Essential hypertension': -7, 'Heart failure NOS': -1, 'Portal hypertension': -1, 'Other anemias': -25, 'Septicemia': -10, 'Sepsis': -17})[datum.l] || -4"}},
                  "encoding": {
                    "x": {"field": "i", "type": "quantitative", "scale": {"domain": [0, 1000], "nice": false, "zero": false}, "axis": {"orient": "top", "title": "TNFRSF6B", "domain": false, "titlePadding": 6, "titleFontSize": 9.5, "titleFontWeight": "normal", "titleBaseline": "alphabetic"}},
                    "y": {"field": "v", "type": "quantitative", "scale": {"domain": [-5, 116], "nice": false, "zero": false}, "axis": {"title": "−log₁₀(p)", "values": [0, 30, 60, 90]}},
                    "text": {"field": "l"}
                  }
                }
              ]
            }
          ]
        },
        {
          "spacing": 5,
          "hconcat": [
            {
              "width": 344, "height": 173,
              "data": {"name": "hlae"},
              "resolve": {"axis": {"x": "independent"}},
              "layer": [
                {
                  "mark": {"type": "point", "shape": "triangle-up", "filled": true, "size": 45, "opacity": 1},
                  "encoding": {
                    "x": {"field": "i", "type": "quantitative", "scale": {"domain": [0, 1000], "nice": false, "zero": false}, "axis": {"orient": "bottom", "title": "d", "titleX": -36, "titleY": -178, "titleAlign": "left", "titleBaseline": "alphabetic", "titleFontSize": 22, "titleFontWeight": "bold"}},
                    "y": {"field": "v", "type": "quantitative", "scale": {"domain": [-8.4, 208], "nice": false, "zero": false}, "axis": {"title": "−log₁₀(p)", "values": [0, 50, 100, 150, 200]}},
                    "color": {"field": "k", "type": "nominal", "scale": {"domain": ["ci","co","de","di","en","ge","he","in","ij","me","mu","np","ne","re","se","sy"]}, "legend": null}
                  }
                },
                {
                  "data": {"values": [{}]},
                  "mark": {"type": "rule", "strokeDash": [4, 3], "strokeWidth": 1.3, "color": "#111111"},
                  "encoding": {"y": {"datum": 9.7}}
                },
                {
                  "transform": [{"filter": "isValid(datum.l)"}],
                  "mark": {"type": "text", "align": "left", "baseline": "middle", "fontSize": 6.8, "color": "#111111",
                    "dx": {"expr": "({'Gout': -4, 'Anemia of chronic disease': 1})[datum.l] || 2.5"},
                    "dy": {"expr": "({'Anemia of chronic disease': -8})[datum.l] || -4.5"}},
                  "encoding": {
                    "x": {"field": "i", "type": "quantitative", "scale": {"domain": [0, 1000], "nice": false, "zero": false}, "axis": {"orient": "top", "title": "HLA–E", "domain": false, "titlePadding": 6, "titleFontSize": 9.5, "titleFontWeight": "normal", "titleBaseline": "alphabetic"}},
                    "y": {"field": "v", "type": "quantitative", "scale": {"domain": [-8.4, 208], "nice": false, "zero": false}, "axis": {"title": "−log₁₀(p)", "values": [0, 50, 100, 150, 200]}},
                    "text": {"field": "l"}
                  }
                }
              ]
            },
            {
              "width": 349, "height": 172,
              "data": {"name": "hyal1"},
              "resolve": {"axis": {"x": "independent"}},
              "layer": [
                {
                  "transform": [{"filter": "datum.d != 'n'"}],
                  "mark": {"type": "point", "shape": "triangle-up", "filled": true, "size": 45, "opacity": 1},
                  "encoding": {
                    "x": {"field": "i", "type": "quantitative", "scale": {"domain": [0, 1000], "nice": false, "zero": false}, "axis": {"orient": "bottom", "title": "e", "titleX": -36, "titleY": -177, "titleAlign": "left", "titleBaseline": "alphabetic", "titleFontSize": 22, "titleFontWeight": "bold"}},
                    "y": {"field": "v", "type": "quantitative", "scale": {"domain": [-1.4, 35.5], "nice": false, "zero": false}, "axis": {"title": "−log₁₀(p)", "values": [0, 10, 20, 30]}},
                    "color": {"field": "k", "type": "nominal", "scale": {"domain": ["ci","co","de","di","en","ge","he","in","ij","me","mu","np","ne","re","se","sy"]}, "legend": null}
                  }
                },
                {
                  "transform": [{"filter": "datum.d == 'n'"}],
                  "mark": {"type": "point", "shape": "triangle-down", "filled": false, "size": 45, "strokeWidth": 0.9, "opacity": 1},
                  "encoding": {
                    "x": {"field": "i", "type": "quantitative", "scale": {"domain": [0, 1000], "nice": false, "zero": false}, "axis": null},
                    "y": {"field": "v", "type": "quantitative", "scale": {"domain": [-1.4, 35.5], "nice": false, "zero": false}, "axis": {"title": "−log₁₀(p)", "values": [0, 10, 20, 30]}},
                    "color": {"field": "k", "type": "nominal", "scale": {"domain": ["ci","co","de","di","en","ge","he","in","ij","me","mu","np","ne","re","se","sy"]}, "legend": null}
                  }
                },
                {
                  "data": {"values": [{}]},
                  "mark": {"type": "rule", "strokeDash": [4, 3], "strokeWidth": 1.3, "color": "#111111"},
                  "encoding": {"y": {"datum": 9.7}}
                },
                {
                  "transform": [{"filter": "isValid(datum.l)"}],
                  "mark": {"type": "text", "align": "left", "baseline": "middle", "fontSize": 6.8, "color": "#111111",
                    "dx": {"expr": "({'Type 2 diabetes': -27, 'Hypercholesterolemia': -17, 'Cirrhosis of liver without mention of alcohol': -16, 'Pneumonia': -6, 'Hypertensive chronic kidney disease': 4, 'Chronic Kidney Disease, Stage III': 4})[datum.l] || 2"},
                    "dy": {"expr": "({'Acute renal failure': -13, 'Type 2 diabetes': -9, 'Hypercholesterolemia': 5, 'Portal hypertension': -7, 'Anemia of chronic disease': -16, 'Alcoholic liver damage': -24, 'Pneumonia': -8})[datum.l] || -4.5"}},
                  "encoding": {
                    "x": {"field": "i", "type": "quantitative", "scale": {"domain": [0, 1000], "nice": false, "zero": false}, "axis": {"orient": "top", "title": "HYAL1", "domain": false, "titlePadding": 7, "titleFontSize": 9.5, "titleFontWeight": "normal", "titleBaseline": "alphabetic"}},
                    "y": {"field": "v", "type": "quantitative", "scale": {"domain": [-1.4, 35.5], "nice": false, "zero": false}, "axis": {"title": "−log₁₀(p)", "values": [0, 10, 20, 30]}},
                    "text": {"field": "l"}
                  }
                }
              ]
            }
          ]
        }
      ]
    }
  ]
}
